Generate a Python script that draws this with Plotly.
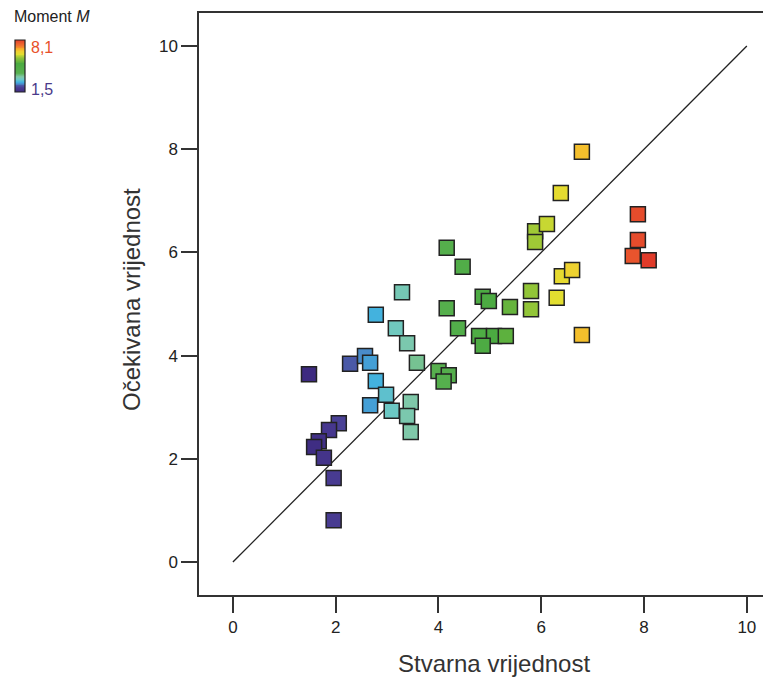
import plotly.graph_objects as go

# Stvarna vrijednost (actual) and Očekivana vrijednost (expected)
stvarna = [1.48, 2.06, 1.87, 1.67, 1.58, 1.77, 1.96, 1.96,
           2.28, 2.57, 2.67, 2.78, 2.78, 2.67,
           2.98, 3.09, 3.46, 3.39, 3.46, 3.29, 3.17, 3.39, 3.58,
           4.00, 4.20, 4.10, 4.16, 4.47, 4.16, 4.38, 4.86, 4.98, 5.39, 4.79, 5.08, 5.31, 4.86,
           5.80, 5.80, 5.88, 5.88, 6.11,
           6.38, 6.40, 6.60, 6.30,
           6.79, 6.79,
           7.88, 7.88, 7.78, 8.09]
ocekivana = [3.64, 2.69, 2.56, 2.34, 2.23, 2.02, 1.63, 0.81,
             3.84, 3.99, 3.86, 3.51, 4.79, 3.04,
             3.24, 2.93, 3.10, 2.83, 2.52, 5.23, 4.53, 4.24, 3.86,
             3.70, 3.62, 3.50, 6.09, 5.72, 4.92, 4.53, 5.14, 5.06, 4.94, 4.38, 4.38, 4.38, 4.19,
             5.25, 4.90, 6.41, 6.20, 6.55,
             7.15, 5.54, 5.66, 5.12,
             7.95, 4.40,
             6.74, 6.24, 5.93, 5.85]
moment = stvarna  # colour by moment M
m_min, m_max = 1.5, 8.1
diag = [0, 10]
ticks = [0, 2, 4, 6, 8, 10]

cscale = [
    [0.00, "#3d2a80"], [0.08, "#4a3d94"], [0.12, "#4a5aa8"], [0.16, "#4a88c8"],
    [0.19, "#40b0e0"], [0.24, "#6cc8c4"], [0.30, "#80c8a8"], [0.36, "#58b050"],
    [0.55, "#4aaa40"], [0.65, "#90c438"], [0.72, "#e0e030"], [0.78, "#f0d030"],
    [0.82, "#f8b028"], [0.90, "#f07030"], [1.00, "#e03a2a"],
]

# page body has an 8px margin: lay out in window pixels, shifted by it
O = 8
W, H = 771 - O, 679 - O
def px(x):
    return (x - O) / W
def py(y):
    return 1 - (y - O) / H

font = "Liberation Sans, Arial, sans-serif"
fig = go.Figure()
fig.add_trace(go.Scatter(x=diag, y=diag, mode="lines",
                         line=dict(color="#222222", width=1.3),
                         hoverinfo="skip", showlegend=False))
fig.add_trace(go.Scatter(
    x=stvarna, y=ocekivana, mode="markers", showlegend=False,
    marker=dict(symbol="square", size=15, color=moment, cmin=m_min, cmax=m_max,
                colorscale=cscale, line=dict(color="#222222", width=1.5),
                showscale=False)))

# colour key gradient
n = 60
key_vals = [m_min + (m_max - m_min) * i / (n - 1) for i in range(n)]
fig.add_trace(go.Heatmap(z=[[v] for v in key_vals], y=key_vals, x=[0],
                         colorscale=cscale, zmin=m_min, zmax=m_max,
                         showscale=False, hoverinfo="skip",
                         xaxis="x2", yaxis="y2"))
fig.add_shape(type="rect", xref="paper", yref="paper",
              x0=px(15), x1=px(25), y0=py(92), y1=py(40),
              line=dict(color="#222", width=1.2))

fig.add_annotation(xref="paper", yref="paper", x=px(12), y=py(17),
                   xanchor="left", yanchor="middle", showarrow=False,
                   text="Moment <i>M</i>", font=dict(family=font, size=16, color="#222"))
fig.add_annotation(xref="paper", yref="paper", x=px(29), y=py(48),
                   xanchor="left", yanchor="middle", showarrow=False,
                   text="8,1", font=dict(family=font, size=16, color="#e8502a"))
fig.add_annotation(xref="paper", yref="paper", x=px(29), y=py(89),
                   xanchor="left", yanchor="middle", showarrow=False,
                   text="1,5", font=dict(family=font, size=16, color="#4a3a8a"))
fig.add_annotation(xref="paper", yref="paper", x=px(494), y=py(663),
                   xanchor="center", yanchor="middle", showarrow=False,
                   text="Stvarna vrijednost", font=dict(family=font, size=24, color="#333"))
fig.add_annotation(xref="paper", yref="paper", x=px(131), y=py(300),
                   xanchor="center", yanchor="middle", showarrow=False, textangle=-90,
                   text="Očekivana vrijednost", font=dict(family=font, size=24, color="#333"))

axis_common = dict(showgrid=False, zeroline=False, showline=True, linecolor="#333",
                   linewidth=1.5, ticks="outside", ticklen=16, tickwidth=1.5,
                   tickcolor="#333", tickvals=ticks,
                   tickfont=dict(family=font, size=17, color="#222"))
fig.update_layout(
    width=W, height=H, margin=dict(l=0, r=0, t=0, b=0, autoexpand=False),
    plot_bgcolor="white", paper_bgcolor="white",
    xaxis=dict(range=[-0.66, 10.47], mirror=True, domain=[px(199), 1], **axis_common),
    yaxis=dict(range=[-0.64, 10.64], mirror=False, domain=[py(595), py(13)], **axis_common),
    xaxis2=dict(domain=[px(15), px(25)], anchor="y2", visible=False, range=[-0.5, 0.5]),
    yaxis2=dict(domain=[py(92), py(40)], anchor="x2", visible=False,
                range=[m_min, m_max]),
)
fig.write_html("out.html")
